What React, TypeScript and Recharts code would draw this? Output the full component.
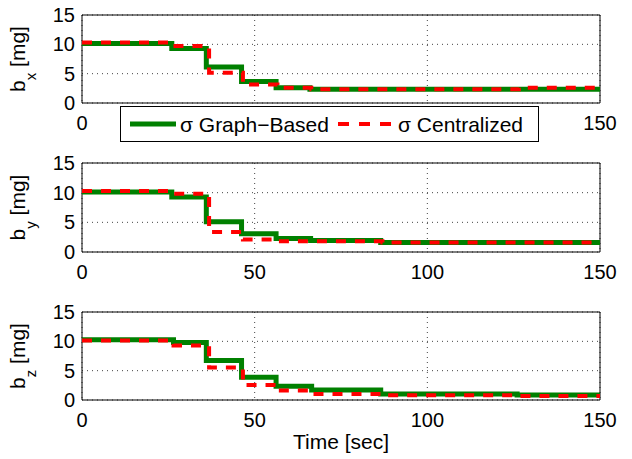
import React from 'react';
import { LineChart, Line, XAxis, YAxis, CartesianGrid, ReferenceArea, Legend } from 'recharts';

// ---- data ----
const xTicks = [0, 50, 100, 150];
const yTicks = [0, 5, 10, 15];

const bxGraphT = [0, 26, 36, 46.2, 56.2, 66, 150];
const bxGraphV = [10.15, 9.3, 6.15, 3.65, 2.62, 2.35, 2.35];
const bxCentT = [0, 26.3, 36.8, 46.6, 56.6, 66.4, 126.5, 150];
const bxCentV = [10.3, 9.7, 5.15, 3.15, 2.58, 2.35, 2.62, 2.62];

const byGraphT = [0, 26, 36, 46.2, 56.2, 66.2, 86.5, 150];
const byGraphV = [10.1, 9.25, 5.08, 3.08, 2.28, 1.94, 1.6, 1.6];
const byCentT = [0, 26.3, 36.8, 46.6, 56.6, 87, 150];
const byCentV = [10.27, 9.8, 3.37, 2.11, 1.83, 1.6, 1.6];

const bzGraphT = [0, 26.5, 36, 46.2, 56.2, 66.5, 86.5, 126, 150];
const bzGraphV = [10.27, 9.8, 6.73, 3.88, 2.34, 1.71, 1.03, 0.86, 0.86];
const bzCentT = [0, 26.5, 36.8, 46.6, 56.6, 66.9, 87, 126.5, 150];
const bzCentV = [10.15, 9.3, 5.53, 2.57, 1.6, 1.03, 0.8, 0.68, 0.68];

const legendLabels = ['σ Graph\u2212Based', 'σ Centralized'];
const xAxisTitle = 'Time [sec]';
// tick labels hidden behind the legend in the top panel
const hiddenTopTicks = [50, 100];

const zip = (t: number[], v: number[]) => t.map((x, i) => ({ t: x, v: v[i] }));

const FONT = '"Liberation Sans", Arial, Helvetica, sans-serif';
const GREEN = '#008000';
const RED = '#ff0000';

function LegendBox() {
  return (
    <svg width={419} height={36} style={{ display: 'block', fontFamily: FONT }}>
      <rect x={0.5} y={0.5} width={418} height={35} fill="#fff" stroke="#000" strokeWidth={1} />
      <line x1={10} y1={18} x2={56} y2={18} stroke={GREEN} strokeWidth={5} />
      <text x={60} y={26} fontSize={21} fill="#000">{legendLabels[0]}</text>
      <line x1={218} y1={18} x2={272} y2={18} stroke={RED} strokeWidth={4} strokeDasharray="11 10" />
      <text x={278} y={26} fontSize={21} fill="#000">{legendLabels[1]}</text>
    </svg>
  );
}

type PanelProps = {
  top: number;
  height: number;
  marginTop: number;
  plotHeight: number;
  sub: string;
  graph: { t: number; v: number }[];
  central: { t: number; v: number }[];
  showLegend?: boolean;
  showXLabel?: boolean;
};

function Panel({ top, height, marginTop, plotHeight, sub, graph, central, showLegend, showXLabel }: PanelProps) {
  const xAxisHeight = height - marginTop - plotHeight;
  const cy = marginTop + plotHeight / 2;
  const cx = 25;
  const yLabel = () => (
    <text
      x={cx}
      y={cy}
      transform={`rotate(-90 ${cx} ${cy})`}
      textAnchor="middle"
      fontSize={21}
      fill="#000"
      fontFamily={FONT}
    >
      b
      <tspan dy={11} fontSize={15}>{sub}</tspan>
      <tspan dy={-11}>{'\u00a0[mg]'}</tspan>
    </text>
  );
  const xLabel = () => (
    <text x={341} y={marginTop + plotHeight + 49} textAnchor="middle" fontSize={21} fill="#000" fontFamily={FONT}>
      {xAxisTitle}
    </text>
  );
  const fmt = (v: number) => (showLegend && hiddenTopTicks.includes(v) ? '' : String(v));
  return (
    <div style={{ position: 'absolute', left: 0, top, width: 632, height, zIndex: showLegend ? 2 : 1 }}>
      <LineChart width={632} height={height} margin={{ top: marginTop, right: 32, left: 0, bottom: 0 }}>
        <CartesianGrid stroke="#444" strokeDasharray="1 4" strokeWidth={1} />
        <XAxis
          type="number"
          dataKey="t"
          domain={[0, 150]}
          ticks={xTicks}
          interval={0}
          height={xAxisHeight}
          axisLine={false}
          tickLine={false}
          tickSize={0}
          tickMargin={13}
          tick={{ fill: '#000', fontSize: 20 }}
          tickFormatter={fmt}
          label={showXLabel ? xLabel : undefined}
        />
        <YAxis
          type="number"
          domain={[0, 15]}
          ticks={yTicks}
          interval={0}
          width={82}
          axisLine={false}
          tickLine={false}
          tickSize={0}
          tickMargin={7}
          tick={{ fill: '#000', fontSize: 20 }}
          label={yLabel}
        />
        <ReferenceArea x1={0} x2={150} y1={0} y2={15} fill="none" stroke="#000" strokeWidth={1} />
        <Line
          data={graph}
          dataKey="v"
          type="stepAfter"
          stroke={GREEN}
          strokeWidth={5}
          dot={false}
          activeDot={false}
          isAnimationActive={false}
        />
        <Line
          data={central}
          dataKey="v"
          type="stepAfter"
          stroke={RED}
          strokeWidth={4}
          strokeDasharray="10 9"
          dot={false}
          activeDot={false}
          isAnimationActive={false}
        />
        {showLegend && (
          <Legend
            layout="horizontal"
            verticalAlign="middle"
            align="center"
            width={419}
            height={36}
            wrapperStyle={{ left: 120, top: 106, width: 419, height: 36 }}
            content={() => <LegendBox />}
          />
        )}
      </LineChart>
    </div>
  );
}

export default function App() {
  return (
    <div
      style={{
        position: 'absolute',
        left: 0,
        top: 0,
        width: 632,
        height: 459,
        background: '#fff',
        fontFamily: FONT,
      }}
    >
      <Panel top={0} height={150} marginTop={15} plotHeight={88} sub="x"
        graph={zip(bxGraphT, bxGraphV)} central={zip(bxCentT, bxCentV)} showLegend />
      <Panel top={150} height={150} marginTop={13} plotHeight={89} sub="y"
        graph={zip(byGraphT, byGraphV)} central={zip(byCentT, byCentV)} />
      <Panel top={300} height={159} marginTop={12} plotHeight={88} sub="z"
        graph={zip(bzGraphT, bzGraphV)} central={zip(bzCentT, bzCentV)} showXLabel />
    </div>
  );
}
